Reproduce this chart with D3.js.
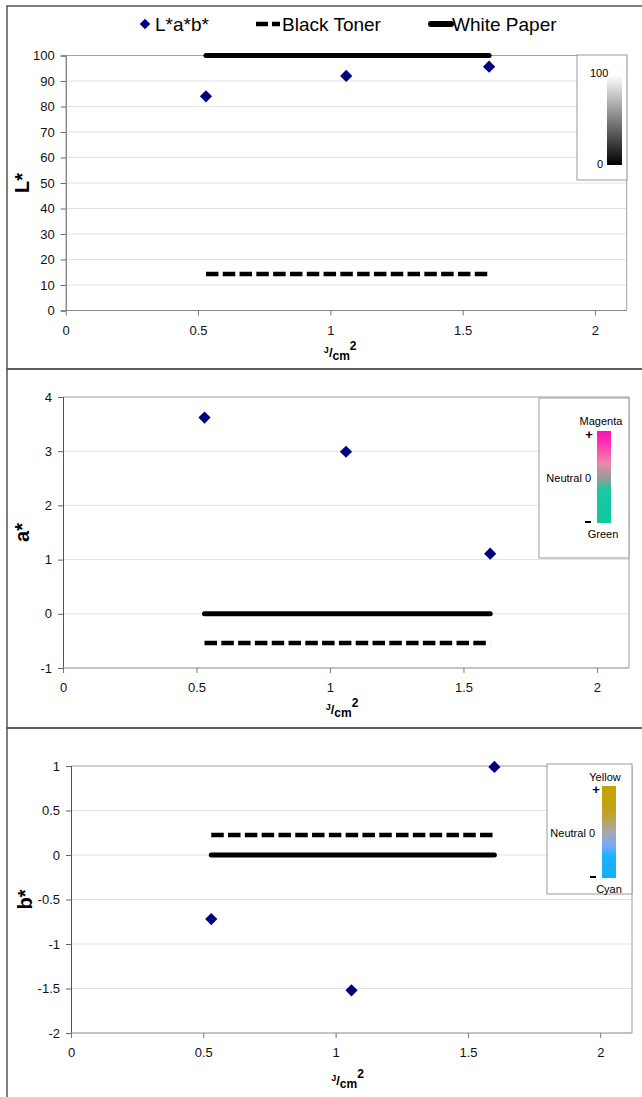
<!DOCTYPE html>
<html>
<head>
<meta charset="utf-8">
<script src="https://cdn.jsdelivr.net/npm/d3@7"></script>
<style>
  body { margin: 0; background: #fff; }
  svg { display: block; font-family: "Liberation Sans", Arial, sans-serif; }
</style>
</head>
<body>
<div id="chart"></div>
<script>
// fluence values (J/cm2) for the three samples
const fluence = [0.53, 1.06, 1.6];
const lValues = [84.0, 92.0, 95.6];
const aValues = [3.62, 2.99, 1.11];
const bValues = [-0.72, -1.52, 0.99];
// reference lines: [L*, a*, b*]
const blackToner = [14.3, -0.54, 0.225];
const whitePaper = [100, 0, 0];
const refRange = [0.53, 1.6];
const xTicks = [0, 0.5, 1, 1.5, 2];
const lTicks = [0, 10, 20, 30, 40, 50, 60, 70, 80, 90, 100];
const aTicks = [-1, 0, 1, 2, 3, 4];
const bTicks = [-2, -1.5, -1, -0.5, 0, 0.5, 1];
const legendNames = ["L*a*b*", "Black Toner", "White Paper"];

const width = 642, height = 1097;
const svg = d3.select("#chart").append("svg")
    .attr("width", width)
    .attr("height", height);

const fmt = d => String(d); // plain hyphen minus like the original

const defs = svg.append("defs");
function gradient(id, stops) {
    const g = defs.append("linearGradient").attr("id", id)
        .attr("x1", 0).attr("y1", 0).attr("x2", 0).attr("y2", 1);
    stops.forEach(([o, c]) => g.append("stop").attr("offset", o).attr("stop-color", c));
}
gradient("gL", [[0, "#ffffff"], [1, "#000000"]]);
gradient("gA", [[0, "#ff10b4"], [0.12, "#ff30b2"], [0.35, "#ee84aa"], [0.52, "#8e9e98"], [0.64, "#1cc8a2"], [1, "#0cc8a0"]]);
gradient("gB", [[0, "#c8a000"], [0.28, "#c0a21c"], [0.5, "#a8a8ac"], [0.66, "#72aaff"], [0.76, "#1eb0ff"], [1, "#10b0ff"]]);

// panel layouts
const panels = [
    { frame: [6, 369], left: 65.7, right: 626.7, top: 55.5, bottom: 310.5, yDomain: [0, 100],
      ticks: lTicks, vals: lValues, k: 0, title: "L*", titleX: 22, xTitleY: 357,
      legend: { x: 577, y: 55, w: 50, h: 125 } },
    { frame: [369, 728], left: 63, right: 629, top: 397, bottom: 668, yDomain: [-1, 4],
      ticks: aTicks, vals: aValues, k: 1, title: "a*", titleX: 22, xTitleY: 714,
      legend: { x: 539, y: 398, w: 90, h: 160 } },
    { frame: [728, 1100], left: 71, right: 632, top: 766, bottom: 1033, yDomain: [-2, 1],
      ticks: bTicks, vals: bValues, k: 2, title: "b*", titleX: 25, xTitleY: 1085,
      legend: { x: 547, y: 764, w: 85, h: 130 } }
];

// outer frames
panels.forEach(p => {
    svg.append("rect")
        .attr("x", 7).attr("y", p.frame[0])
        .attr("width", 660).attr("height", p.frame[1] - p.frame[0])
        .attr("fill", "none").attr("stroke", "#555").attr("stroke-width", 1.5);
});

panels.forEach(p => {
    const x = d3.scaleLinear().domain([0, 2.12]).range([p.left, p.right]);
    const y = d3.scaleLinear().domain(p.yDomain).range([p.bottom, p.top]);
    const g = svg.append("g");

    // gridlines
    g.append("g").selectAll("line").data(p.ticks.filter(t => t !== p.yDomain[0] && t !== p.yDomain[1]))
        .join("line")
        .attr("x1", p.left).attr("x2", p.right)
        .attr("y1", d => y(d)).attr("y2", d => y(d))
        .attr("stroke", "#e2e2e2").attr("stroke-width", 1);

    // plot border (top/right)
    g.append("path")
        .attr("d", `M${p.left},${p.top}H${p.right}V${p.bottom}`)
        .attr("fill", "none").attr("stroke", "#a0a0a0").attr("stroke-width", 1);

    // y axis
    const ya = g.append("g").attr("transform", `translate(${p.left},0)`)
        .call(d3.axisLeft(y).tickValues(p.ticks).tickSize(5).tickPadding(6).tickFormat(fmt));
    ya.select(".domain").attr("stroke", "#555");
    ya.selectAll(".tick line").attr("stroke", "#666");
    ya.selectAll("text").attr("font-size", 13).attr("fill", "#111").attr("font-family", "Liberation Sans, Arial, sans-serif");

    // x axis
    const xa = g.append("g").attr("transform", `translate(0,${p.bottom})`)
        .call(d3.axisBottom(x).tickValues(xTicks).tickSize(5).tickPadding(10).tickFormat(fmt));
    xa.select(".domain").attr("stroke", "#888").attr("d", `M${p.left},0H${p.right}`);
    xa.selectAll(".tick line").attr("stroke", "#777");
    xa.selectAll("text").attr("font-size", 13).attr("fill", "#111").attr("font-family", "Liberation Sans, Arial, sans-serif");

    // y title
    g.append("text")
        .attr("transform", `translate(${p.titleX},${(p.top + p.bottom) / 2}) rotate(-90)`)
        .attr("text-anchor", "middle").attr("dy", "0.35em")
        .attr("font-size", 20).attr("font-weight", "bold")
        .text(p.title);

    // x title J/cm2
    const xt = g.append("text")
        .attr("x", (p.left + p.right) / 2 - 4 - (p.k === 0 ? 2 : 0)).attr("y", p.xTitleY)
        .attr("text-anchor", "middle").attr("font-weight", "bold").attr("font-size", 12);
    xt.append("tspan").attr("font-size", 9).attr("dy", -4).text("J");
    xt.append("tspan").attr("font-size", 13).attr("dy", 4).text("/");
    xt.append("tspan").attr("font-size", 12).attr("dy", 3).text("cm");
    xt.append("tspan").attr("font-size", 12).attr("dy", -10).text("2");

    // reference lines
    g.append("line")
        .attr("x1", x(refRange[0])).attr("x2", x(refRange[1]))
        .attr("y1", y(whitePaper[p.k])).attr("y2", y(whitePaper[p.k]))
        .attr("stroke", "#000").attr("stroke-width", 5).attr("stroke-linecap", "round");
    g.append("line")
        .attr("x1", x(refRange[0])).attr("x2", x(refRange[1]))
        .attr("y1", y(blackToner[p.k])).attr("y2", y(blackToner[p.k]))
        .attr("stroke", "#000").attr("stroke-width", 4.5).attr("stroke-dasharray", "12.5,4.3");

    // points
    g.append("g").selectAll("path").data(p.vals).join("path")
        .attr("d", d3.symbol(d3.symbolDiamond2, 95))
        .attr("transform", (d, i) => `translate(${x(fluence[i])},${y(d)})`)
        .attr("fill", "#000080");
});

// color legends
function legendBox(p) {
    const L = p.legend;
    svg.append("rect").attr("x", L.x).attr("y", L.y).attr("width", L.w).attr("height", L.h)
        .attr("fill", "#fff").attr("stroke", "#999").attr("stroke-width", 1);
    return svg.append("g");
}
// L* legend
{
    const g = legendBox(panels[0]);
    g.append("rect").attr("x", 607).attr("y", 75).attr("width", 15).attr("height", 90).attr("fill", "url(#gL)");
    g.append("text").attr("x", 590).attr("y", 77).attr("font-size", 11).text("100");
    g.append("text").attr("x", 597).attr("y", 168).attr("font-size", 11).text("0");
}
// a* legend
{
    const g = legendBox(panels[1]);
    g.append("rect").attr("x", 597).attr("y", 431).attr("width", 14).attr("height", 92).attr("fill", "url(#gA)");
    g.append("text").attr("x", 601).attr("y", 425).attr("text-anchor", "middle").attr("font-size", 11).text("Magenta");
    g.append("text").attr("x", 589).attr("y", 439).attr("text-anchor", "middle").attr("font-size", 13).attr("font-weight", "bold").text("+");
    g.append("text").attr("x", 591).attr("y", 482).attr("text-anchor", "end").attr("font-size", 11).text("Neutral  0");
    g.append("rect").attr("x", 585).attr("y", 521).attr("width", 6).attr("height", 2).attr("fill", "#000");
    g.append("text").attr("x", 603).attr("y", 538).attr("text-anchor", "middle").attr("font-size", 11).text("Green");
}
// b* legend
{
    const g = legendBox(panels[2]);
    g.append("rect").attr("x", 602).attr("y", 786).attr("width", 14).attr("height", 92).attr("fill", "url(#gB)");
    g.append("text").attr("x", 605).attr("y", 781).attr("text-anchor", "middle").attr("font-size", 11).text("Yellow");
    g.append("text").attr("x", 596).attr("y", 794).attr("text-anchor", "middle").attr("font-size", 13).attr("font-weight", "bold").text("+");
    g.append("text").attr("x", 595).attr("y", 837).attr("text-anchor", "end").attr("font-size", 11).text("Neutral  0");
    g.append("rect").attr("x", 590).attr("y", 876).attr("width", 6).attr("height", 2).attr("fill", "#000");
    g.append("text").attr("x", 609).attr("y", 893).attr("text-anchor", "middle").attr("font-size", 11).text("Cyan");
}

// series legend at top
const lg = svg.append("g").attr("font-size", 19);
lg.append("path").attr("d", d3.symbol(d3.symbolDiamond2, 70))
    .attr("transform", "translate(145,24)").attr("fill", "#000080");
lg.append("text").attr("x", 155).attr("y", 31).text(legendNames[0]);
lg.append("line").attr("x1", 256).attr("x2", 280).attr("y1", 24).attr("y2", 24)
    .attr("stroke", "#000").attr("stroke-width", 4.5).attr("stroke-dasharray", "12,4");
lg.append("text").attr("x", 282).attr("y", 31).text(legendNames[1]);
lg.append("line").attr("x1", 431).attr("x2", 451).attr("y1", 24).attr("y2", 24)
    .attr("stroke", "#000").attr("stroke-width", 6).attr("stroke-linecap", "round");
lg.append("text").attr("x", 452).attr("y", 31).text(legendNames[2]);
</script>
</body>
</html>
